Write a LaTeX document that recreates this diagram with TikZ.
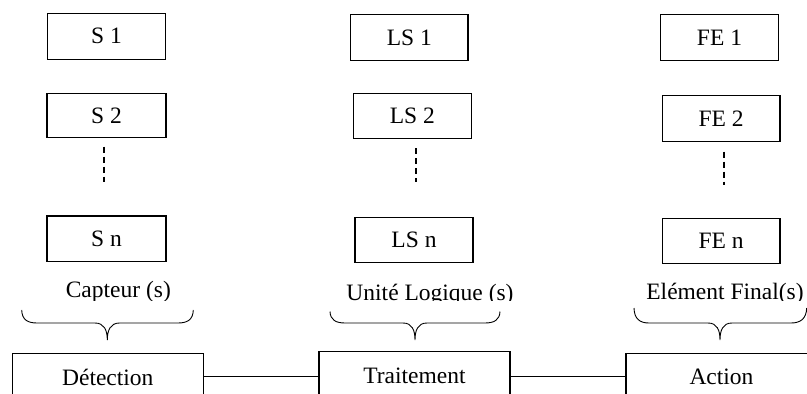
\documentclass[tikz,border=0pt]{standalone}
\usepackage{fontspec}
\setmainfont{Liberation Serif}
\begin{document}
\begin{tikzpicture}[x=1pt,y=-1pt,
  every node/.style={font=\fontsize{23.5}{26}\selectfont},
  bx/.style={draw,line width=1.2pt,inner sep=0pt},
  lnk/.style={line width=1.2pt},
  dsh/.style={line width=2pt,dash pattern=on 6pt off 4pt},
  brc/.style={line width=0.9pt}]
\useasboundingbox (0,0) rectangle (807,394);
\clip (0,0) rectangle (807,394);
% column boxes
\node[bx,minimum width=118.4pt,minimum height=46pt] (S1) at (106.5,36.3) {S 1};
\node[bx,minimum width=119pt,minimum height=44.4pt] (S2) at (106.5,115.5) {S 2};
\node[bx,minimum width=119pt,minimum height=45.7pt] (Sn) at (106.5,238.8) {S n};
\node[bx,minimum width=117.3pt,minimum height=46pt] (LS1) at (409.3,37.7) {LS 1};
\node[bx,minimum width=118pt,minimum height=45pt] (LS2) at (412.3,115.8) {LS 2};
\node[bx,minimum width=118pt,minimum height=45.4pt] (LSn) at (414,240) {LS n};
\node[bx,minimum width=117.6pt,minimum height=46pt] (FE1) at (719.5,37.7) {FE 1};
\node[bx,minimum width=117.7pt,minimum height=46pt] (FE2) at (721.2,118.7) {FE 2};
\node[bx,minimum width=117.7pt,minimum height=45pt] (FEn) at (721.2,240.8) {FE n};
% dashed continuation
\coordinate (dSa) at (104,146.7);   \coordinate (dSb) at (104,181.7);
\coordinate (dLa) at (416,148);     \coordinate (dLb) at (416,181.7);
\coordinate (dFa) at (724,151.7);   \coordinate (dFb) at (724,185);
\draw[dsh] (dSa) -- (dSb);
\draw[dsh] (dLa) -- (dLb);
\draw[dsh] (dFa) -- (dFb);
% group labels (descenders cut as in the reference)
\begin{scope}
\clip (0,0) rectangle (807,300.5);
\node[anchor=base] (capt) at (118.3,297.3) {Capteur (s)};
\node[anchor=base] (unit) at (430,300.3) {Unité Logique (s)};
\node[anchor=base] (elem) at (725,299.3) {Elément Final(s)};
\end{scope}
% braces
\draw[brc] (21.7,310) .. controls (22,320) and (28,323) .. (37,323) -- (95,323)
  .. controls (104,323) and (107.3,330) .. (107.3,340)
  .. controls (107.3,330) and (110.6,323) .. (119.6,323) -- (178,323)
  .. controls (187,323) and (193,320) .. (193.3,310);
\draw[brc] (330,311.5) .. controls (330.3,320) and (336,323) .. (345,323) -- (403,323)
  .. controls (412,323) and (415,330) .. (415,340)
  .. controls (415,330) and (418,323) .. (427,323) -- (485,323)
  .. controls (494,323) and (499.7,320) .. (500,311.5);
\draw[brc] (634,308) .. controls (634.3,319) and (640,323) .. (649,323) -- (708,323)
  .. controls (717,323) and (720,330) .. (720,340)
  .. controls (720,330) and (723,323) .. (732,323) -- (791,323)
  .. controls (800,323) and (806.4,319) .. (806.7,308);
% bottom chain
\node[bx,minimum width=191pt,minimum height=48pt] (det) at (107.8,377.3) {Détection};
\node[bx,minimum width=191pt,minimum height=48.6pt] (trt) at (414.5,376) {Traitement};
\node[bx,minimum width=191pt,minimum height=48pt] (act) at (721.5,377.3) {Action};
\draw[lnk] (det.east |- 0,376.7) -- (trt.west |- 0,376.7);
\draw[lnk] (trt.east |- 0,376.7) -- (act.west |- 0,376.7);
\end{tikzpicture}
\end{document}
